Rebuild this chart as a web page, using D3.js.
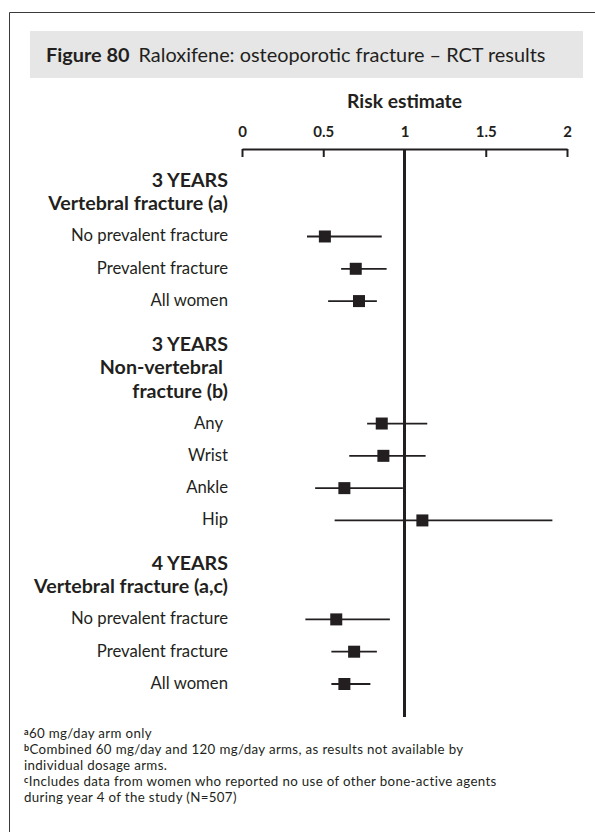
<!DOCTYPE html>
<html>
<head>
<meta charset="utf-8">
<script src="https://cdn.jsdelivr.net/npm/d3@7"></script>
<style>
  body { margin: 0; background: #fff; }
  svg { display: block; font-family: Lato, "Open Sans", sans-serif; }
</style>
</head>
<body>
<div id="chart"></div>
<script>
// ---- data ----
var groupHeaders = [
    ["3 YEARS", "Vertebral fracture (a)"],
    ["3 YEARS", "Non-vertebral", "fracture (b)"],
    ["4 YEARS", "Vertebral fracture (a,c)"]
];
var groupRows = [
    ["No prevalent fracture", "Prevalent fracture", "All women"],
    ["Any", "Wrist", "Ankle", "Hip"],
    ["No prevalent fracture", "Prevalent fracture", "All women"]
];
var estimates = [0.51, 0.70, 0.72, 0.86, 0.87, 0.63, 1.11, 0.58, 0.69, 0.63];
var lowerCI   = [0.40, 0.61, 0.53, 0.77, 0.66, 0.45, 0.57, 0.39, 0.55, 0.55];
var upperCI   = [0.86, 0.89, 0.83, 1.14, 1.13, 0.99, 1.91, 0.91, 0.83, 0.79];
var tickValues = [0, 0.5, 1, 1.5, 2];
var tickLabels = ["0", "0.5", "1", "1.5", "2"];
var footnotes = [
    ["a", "60 mg/day arm only"],
    ["b", "Combined 60 mg/day and 120 mg/day arms, as results not available by"],
    ["", "individual dosage arms."],
    ["c", "Includes data from women who reported no use of other bone-active agents"],
    ["", "during year 4 of the study (N=507)"]
];

var INK = "#231f20";
var width = 595, height = 832;

var svg = d3.select("#chart").append("svg")
    .attr("width", width)
    .attr("height", height);

function textWidth(text, weight, size) {
    var t = svg.append("text")
        .attr("font-size", size)
        .attr("font-weight", weight)
        .text(text);
    var w = t.node().getComputedTextLength();
    t.remove();
    return w;
}

// font size that makes a string a given width
function fitSize(text, weight, target) {
    return 20 * target / textWidth(text, weight, 20);
}

var labelSize = fitSize("No prevalent fracture", "normal", 157);
var headSize = fitSize("Vertebral fracture (a)", "bold", 180);
var titleSize = fitSize("Figure 80  Raloxifene: osteoporotic fracture \u2013 RCT results", "normal", 495);
var axisTitleSize = fitSize("Risk estimate", "bold", 115);

// footnotes: size limited by the line spacing, a little letter spacing for width
var noteSize = 13.3;
var longNote = footnotes[3][1];
var noteSpacing = Math.min(0.35, (555 - textWidth(longNote, "normal", noteSize)) / longNote.length);

// frame
svg.append("path")
    .attr("d", "M9.5," + height + "V12.5H" + width)
    .attr("fill", "none")
    .attr("stroke", "#3a3a3a")
    .attr("stroke-width", 1);

// title box
svg.append("rect")
    .attr("x", 30).attr("y", 31)
    .attr("width", 553).attr("height", 47)
    .attr("fill", "#e6e6e6");

var title = svg.append("text")
    .attr("x", 46).attr("y", 62)
    .attr("font-size", titleSize)
    .attr("fill", INK);
title.append("tspan").attr("font-weight", "bold").text("Figure 80");
title.append("tspan").attr("dx", titleSize * 0.45).text("Raloxifene: osteoporotic fracture \u2013 RCT results");

// ---- scales ----
var x = d3.scaleLinear().domain([0, 2]).range([242, 567]);

// vertical layout in row units
var HEAD_STEP = 0.727, HEAD_TO_ROW = 0.805, ROW_STEP = 1, ROW_TO_HEAD = 1.532;
var y = d3.scaleLinear().domain([0, 1]).range([187, 187 + 32.3]);

var headerItems = [], rowItems = [];
var pos = 0, rowIndex = 0;
groupHeaders.forEach(function (lines, g) {
    lines.forEach(function (line, i) {
        headerItems.push({text: line, u: pos});
        if (i < lines.length - 1) pos += HEAD_STEP;
    });
    pos += HEAD_TO_ROW;
    groupRows[g].forEach(function (label, i) {
        rowItems.push({
            label: label,
            u: pos,
            est: estimates[rowIndex],
            lo: lowerCI[rowIndex],
            hi: upperCI[rowIndex]
        });
        rowIndex++;
        if (i < groupRows[g].length - 1) pos += ROW_STEP;
    });
    pos += ROW_TO_HEAD;
});

// ---- axis ----
svg.append("text")
    .attr("x", x(1)).attr("y", 108)
    .attr("text-anchor", "middle")
    .attr("font-weight", "bold")
    .attr("font-size", axisTitleSize)
    .attr("fill", INK)
    .text("Risk estimate");

var axis = d3.axisTop(x)
    .tickValues(tickValues)
    .tickFormat(function (d, i) { return tickLabels[i]; })
    .tickSizeInner(-8)
    .tickSizeOuter(0)
    .tickPadding(12);

var axisG = svg.append("g")
    .attr("transform", "translate(0,149)")
    .call(axis);
axisG.select(".domain").attr("stroke", INK).attr("stroke-width", 2);
axisG.selectAll(".tick line").attr("stroke", INK).attr("stroke-width", 2);
axisG.selectAll(".tick text")
    .attr("fill", INK)
    .attr("font-family", "Lato, 'Open Sans', sans-serif")
    .attr("font-weight", "bold")
    .attr("font-size", 15);

// line of no effect
svg.append("line")
    .attr("x1", x(1)).attr("x2", x(1))
    .attr("y1", 149).attr("y2", 717)
    .attr("stroke", INK)
    .attr("stroke-width", 3);

// ---- labels ----
var LABEL_X = 228;
svg.selectAll(".head")
    .data(headerItems)
    .enter().append("text")
    .attr("class", "head")
    .attr("x", LABEL_X)
    .attr("y", function (d) { return y(d.u); })
    .attr("text-anchor", "end")
    .attr("font-weight", "bold")
    .attr("font-size", headSize)
    .attr("fill", INK)
    .attr("dx", function (d) { return d.text === "Non-vertebral" ? -5 : 0; })
    .text(function (d) { return d.text; });

svg.selectAll(".row-label")
    .data(rowItems)
    .enter().append("text")
    .attr("class", "row-label")
    .attr("x", LABEL_X)
    .attr("y", function (d) { return y(d.u) + 5; })
    .attr("text-anchor", "end")
    .attr("font-size", labelSize)
    .attr("fill", INK)
    .attr("dx", function (d) { return d.label === "Any" ? -5 : 0; })
    .text(function (d) { return d.label; });

// ---- estimates ----
var SQ = 12;
var rows = svg.selectAll(".est")
    .data(rowItems)
    .enter().append("g")
    .attr("class", "est")
    .attr("transform", function (d) { return "translate(0," + y(d.u) + ")"; });

rows.append("line")
    .attr("x1", function (d) { return x(d.lo); })
    .attr("x2", function (d) { return x(d.hi); })
    .attr("stroke", INK)
    .attr("stroke-width", 1.8);

rows.append("rect")
    .attr("x", function (d) { return x(d.est) - SQ / 2; })
    .attr("y", -SQ / 2)
    .attr("width", SQ)
    .attr("height", SQ)
    .attr("fill", INK);

// ---- footnotes ----
var notes = svg.selectAll(".note")
    .data(footnotes)
    .enter().append("text")
    .attr("class", "note")
    .attr("x", 24)
    .attr("y", function (d, i) { return 738 + i * 16; })
    .attr("font-size", noteSize)
    .attr("letter-spacing", noteSpacing)
    .attr("fill", INK);

notes.append("tspan")
    .attr("font-size", 9)
    .attr("font-weight", "bold")
    .attr("dy", -3)
    .text(function (d) { return d[0]; });
notes.append("tspan")
    .attr("dy", function (d) { return d[0] ? 3 : 0; })
    .text(function (d) { return d[1]; });
</script>
</body>
</html>
